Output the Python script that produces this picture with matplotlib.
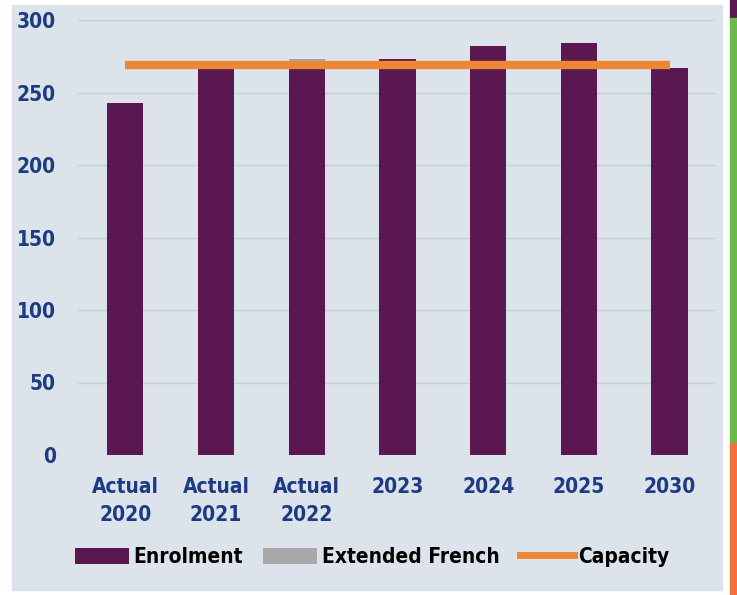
import matplotlib
matplotlib.use("Agg")
import matplotlib.pyplot as plt
from matplotlib.patches import Rectangle, Patch
from matplotlib.lines import Line2D

# Dados do gráfico
categories = ["Actual\n2020", "Actual\n2021", "Actual\n2022", "2023", "2024", "2025", "2030"]
enrolment = [243, 266, 272, 273, 282, 284, 267]
extended_french = [0, 0, 1, 0, 0, 0, 0]
capacity = [269, 269, 269, 269, 269, 269, 269]
y_ticks = [0, 50, 100, 150, 200, 250, 300]

purple = "#5b1850"
orange = "#ee8733"
gray = "#a8a8a8"
panel = "#dce3ea"
blue = "#1d3b82"

plt.rcParams["font.family"] = ["Liberation Sans Narrow", "DejaVu Sans"]
plt.rcParams["font.weight"] = "bold"
plt.rcParams["font.stretch"] = "condensed"

fig = plt.figure(figsize=(7.37, 5.95), dpi=100)
fig.patch.set_facecolor("white")

# painel de fundo e faixas coloridas na borda direita
def fig_rect(x0, y0, w, h, color):
    fig.add_artist(Rectangle((x0 / 737, y0 / 595), w / 737, h / 595,
                             transform=fig.transFigure, color=color, zorder=-5))

fig_rect(12, 5, 710, 585, panel)
fig_rect(730, 577, 7, 18, purple)
fig_rect(730, 152, 7, 425, "#68bd48")
fig_rect(730, 0, 7, 152, "#f07142")

ax = fig.add_axes([78 / 737, 140 / 595, 637 / 737, 435 / 595])
ax.set_zorder(2)
ax.set_facecolor("none")

x = list(range(len(categories)))
ax.bar(x, enrolment, width=0.4, color=purple, zorder=2)
ax.bar(x, extended_french, width=0.4, bottom=enrolment, color=gray, zorder=2)
ax.plot(x, capacity, color=orange, linewidth=6, solid_capstyle="butt", zorder=3)

ax.set_xlim(-0.52, 6.5)
ax.set_ylim(0, 300)
ax.set_yticks(y_ticks)
ax.set_xticks(x)
ax.set_xticklabels(categories, color=blue, fontsize=15, linespacing=1.5)
ax.set_yticklabels([str(v) for v in y_ticks], color=blue, fontsize=15)
ax.tick_params(axis="both", length=0)
ax.tick_params(axis="y", pad=16)
ax.tick_params(axis="x", pad=16)
ax.grid(axis="y", color="#c6cfd8", linewidth=1, zorder=0)
for s in ax.spines.values():
    s.set_visible(False)

handles = [
    Patch(facecolor=purple, edgecolor="none"),
    Patch(facecolor=gray, edgecolor="none"),
    Line2D([0], [0], color=orange, linewidth=5),
]
fig.legend(handles, ["Enrolment", "Extended French", "Capacity"], loc="center",
           bbox_to_anchor=(0.505, 1 - 557 / 595), ncol=3, frameon=False,
           fontsize=15, handlelength=2.6, handleheight=0.8, handletextpad=0.2,
           columnspacing=1.0)

fig.savefig("out.png", dpi=100)
